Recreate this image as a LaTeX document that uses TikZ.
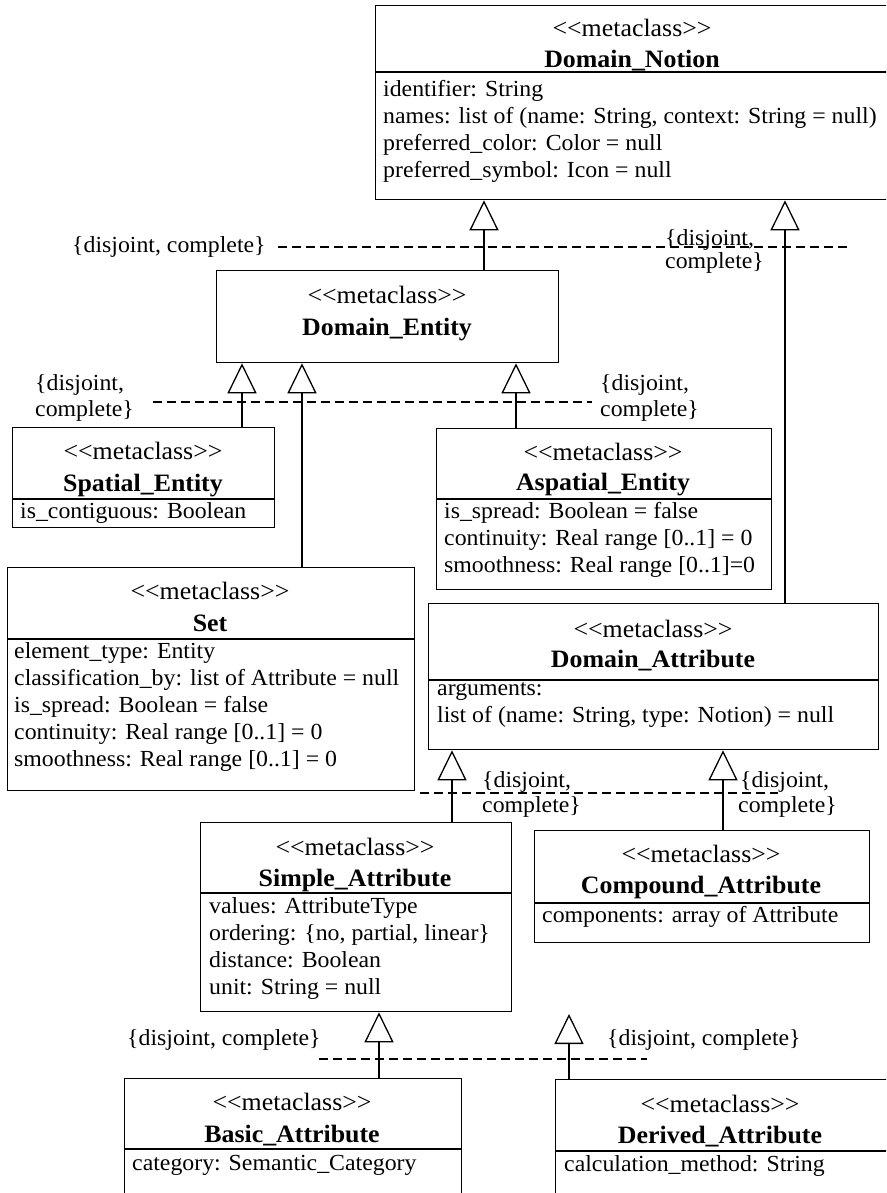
\documentclass[tikz,border=0pt]{standalone}
\usepackage{fontspec}
\setmainfont{Liberation Serif}[FakeStretch=1.035, Ligatures=TeXOff]
\usetikzlibrary{arrows.meta}
\newcommand\mcls{<\kern0pt<metaclass>\kern0pt>}
\tikzset{
  box/.style={draw, line width=1.3pt, inner sep=0pt, anchor=north west},
  sepline/.style={line width=1.3pt},
  stereo/.style={anchor=base, inner sep=0pt, font=\fontsize{25}{30}\selectfont},
  ctitle/.style={anchor=base, inner sep=0pt, font=\fontsize{25}{30}\selectfont\bfseries},
  attr/.style={anchor=base west, inner sep=0pt, font=\fontsize{23}{27}\selectfont},
  cons/.style={anchor=base west, inner sep=0pt, font=\fontsize{23}{27}\selectfont},
  gen/.style={line width=1.3pt, -{Triangle[open, width=29pt, length=30pt]}},
  gset/.style={line width=1.3pt, dash pattern=on 9pt off 5pt},
}
\begin{document}
\begin{tikzpicture}[x=1pt,y=-1pt]
\useasboundingbox (0,0) rectangle (886,1193);
\clip (0,0) rectangle (886,1193);
\fill[white] (0,0) rectangle (886,1193);

% ---------- Domain_Notion ----------
\node[box, minimum width=520pt, minimum height=194pt] (dn) at (375,5) {};
\draw[sepline] (dn.north west) ++(0,67) -- ++(520,0);
\node[stereo] (dn-s) at (632,37) {\mcls};
\node[ctitle] (dn-t) at (632,68) {Domain\_Notion};
\node[attr] (dn-a1) at (383,97) {identifier: String};
\node[attr] (dn-a2) at (383,124) {names: list of (name: String, context: String = null)};
\node[attr] (dn-a3) at (383,151) {preferred\_color: Color = null};
\node[attr] (dn-a4) at (383,178) {preferred\_symbol: Icon = null};

% ---------- Domain_Entity ----------
\node[box, minimum width=342pt, minimum height=92pt] (de) at (216,270) {};
\node[stereo] (de-s) at (387,303) {\mcls};
\node[ctitle] (de-t) at (387,335) {Domain\_Entity};

% ---------- Spatial_Entity ----------
\node[box, minimum width=262pt, minimum height=100pt] (se) at (12,427) {};
\draw[sepline] (se.north west) ++(0,72) -- ++(262,0);
\node[stereo] (se-s) at (143,459) {\mcls};
\node[ctitle] (se-t) at (143,491) {Spatial\_Entity};
\node[attr] (se-a1) at (20,518) {is\_contiguous: Boolean};

% ---------- Aspatial_Entity ----------
\node[box, minimum width=335pt, minimum height=161pt] (ae) at (436,428) {};
\draw[sepline] (ae.north west) ++(0,71) -- ++(335,0);
\node[stereo] (ae-s) at (603,460) {\mcls};
\node[ctitle] (ae-t) at (603,490) {Aspatial\_Entity};
\node[attr] (ae-a1) at (444,518) {is\_spread: Boolean = false};
\node[attr] (ae-a2) at (444,545) {continuity: Real range [0..1] = 0};
\node[attr] (ae-a3) at (444,572) {smoothness: Real range [0..1]=0};

% ---------- Set ----------
\node[box, minimum width=407pt, minimum height=223pt] (st) at (7,567) {};
\draw[sepline] (st.north west) ++(0,72) -- ++(407,0);
\node[stereo] (st-s) at (210,599) {\mcls};
\node[ctitle] (st-t) at (210,631) {Set};
\node[attr] (st-a1) at (14,658) {element\_type: Entity};
\node[attr] (st-a2) at (14,685) {classification\_by: list of Attribute = null};
\node[attr] (st-a3) at (14,712) {is\_spread: Boolean = false};
\node[attr] (st-a4) at (14,739) {continuity: Real range [0..1] = 0};
\node[attr] (st-a5) at (14,766) {smoothness: Real range [0..1] = 0};

% ---------- Domain_Attribute ----------
\node[box, minimum width=450pt, minimum height=146pt] (da) at (428,603) {};
\draw[sepline] (da.north west) ++(0,77) -- ++(450,0);
\node[stereo] (da-s) at (653,637) {\mcls};
\node[ctitle] (da-t) at (653,667) {Domain\_Attribute};
\node[attr] (da-a1) at (437,695) {arguments:};
\node[attr] (da-a2) at (437,722) {list of (name: String, type: Notion) = null};

% ---------- Simple_Attribute ----------
\node[box, minimum width=311pt, minimum height=189pt] (sa) at (200,822) {};
\draw[sepline] (sa.north west) ++(0,71) -- ++(311,0);
\node[stereo] (sa-s) at (355,855) {\mcls};
\node[ctitle] (sa-t) at (355,886) {Simple\_Attribute};
\node[attr] (sa-a1) at (209,913) {values: AttributeType};
\node[attr] (sa-a2) at (209,940) {ordering: \{no, partial, linear\}};
\node[attr] (sa-a3) at (209,967) {distance: Boolean};
\node[attr] (sa-a4) at (209,994) {unit: String = null};

% ---------- Compound_Attribute ----------
\node[box, minimum width=335pt, minimum height=112pt] (ca) at (534,830) {};
\draw[sepline] (ca.north west) ++(0,73) -- ++(335,0);
\node[stereo] (ca-s) at (701,862) {\mcls};
\node[ctitle] (ca-t) at (701,893) {Compound\_Attribute};
\node[attr] (ca-a1) at (542,922) {components: array of Attribute};

% ---------- Basic_Attribute ----------
\node[box, minimum width=337pt, minimum height=140pt] (ba) at (124,1078) {};
\draw[sepline] (ba.north west) ++(0,71) -- ++(337,0);
\node[stereo] (ba-s) at (292,1110) {\mcls};
\node[ctitle] (ba-t) at (292,1142) {Basic\_Attribute};
\node[attr] (ba-a1) at (132,1170) {category: Semantic\_Category};

% ---------- Derived_Attribute ----------
\node[box, minimum width=340pt, minimum height=140pt] (dv) at (555,1079) {};
\draw[sepline] (dv.north west) ++(0,72) -- ++(340,0);
\node[stereo] (dv-s) at (720,1112) {\mcls};
\node[ctitle] (dv-t) at (720,1143) {Derived\_Attribute};
\node[attr] (dv-a1) at (564,1171) {calculation\_method: String};

% ---------- generalisation sets (dashed) and constraints ----------
\draw[gset] (278,247) -- (847,247);
\node[cons] (c1) at (72,252) {\{disjoint, complete\}};
\node[cons] (c2a) at (665,245) {\{disjoint,};
\node[cons] (c2b) at (665,268) {complete\}};

\draw[gset] (153,402) -- (592,402);
\node[cons] (c3a) at (35,390) {\{disjoint,};
\node[cons] (c3b) at (35,416) {complete\}};
\node[cons] (c4a) at (600,390) {\{disjoint,};
\node[cons] (c4b) at (600,416) {complete\}};

\draw[gset] (420,793) -- (778,793);
\node[cons] (c5a) at (482,787) {\{disjoint,};
\node[cons] (c5b) at (482,812) {complete\}};
\node[cons] (c6a) at (740,787) {\{disjoint,};
\node[cons] (c6b) at (738,812) {complete\}};

\draw[gset] (319,1059) -- (647,1059);
\node[cons] (c7) at (127,1045) {\{disjoint, complete\}};
\node[cons] (c8) at (607,1045) {\{disjoint, complete\}};

% ---------- generalisation connectors ----------
\coordinate (g1) at (484,0);
\coordinate (g2) at (785,0);
\coordinate (g3) at (242,0);
\coordinate (g4) at (302,0);
\coordinate (g5) at (516,0);
\coordinate (g6) at (452,0);
\coordinate (g7) at (723,0);
\coordinate (g8) at (379,0);
\coordinate (free) at (569,1014);
\draw[gen] (de.north -| g1) -- (dn.south -| g1);
\draw[gen] (da.north -| g2) -- (dn.south -| g2);
\draw[gen] (se.north -| g3) -- (de.south -| g3);
\draw[gen] (st.north -| g4) -- (de.south -| g4);
\draw[gen] (ae.north -| g5) -- (de.south -| g5);
\draw[gen] (sa.north -| g6) -- (da.south -| g6);
\draw[gen] (ca.north -| g7) -- (da.south -| g7);
\draw[gen] (ba.north -| g8) -- (sa.south -| g8);
\draw[gen] (dv.north -| free) -- (free);
\end{tikzpicture}
\end{document}
